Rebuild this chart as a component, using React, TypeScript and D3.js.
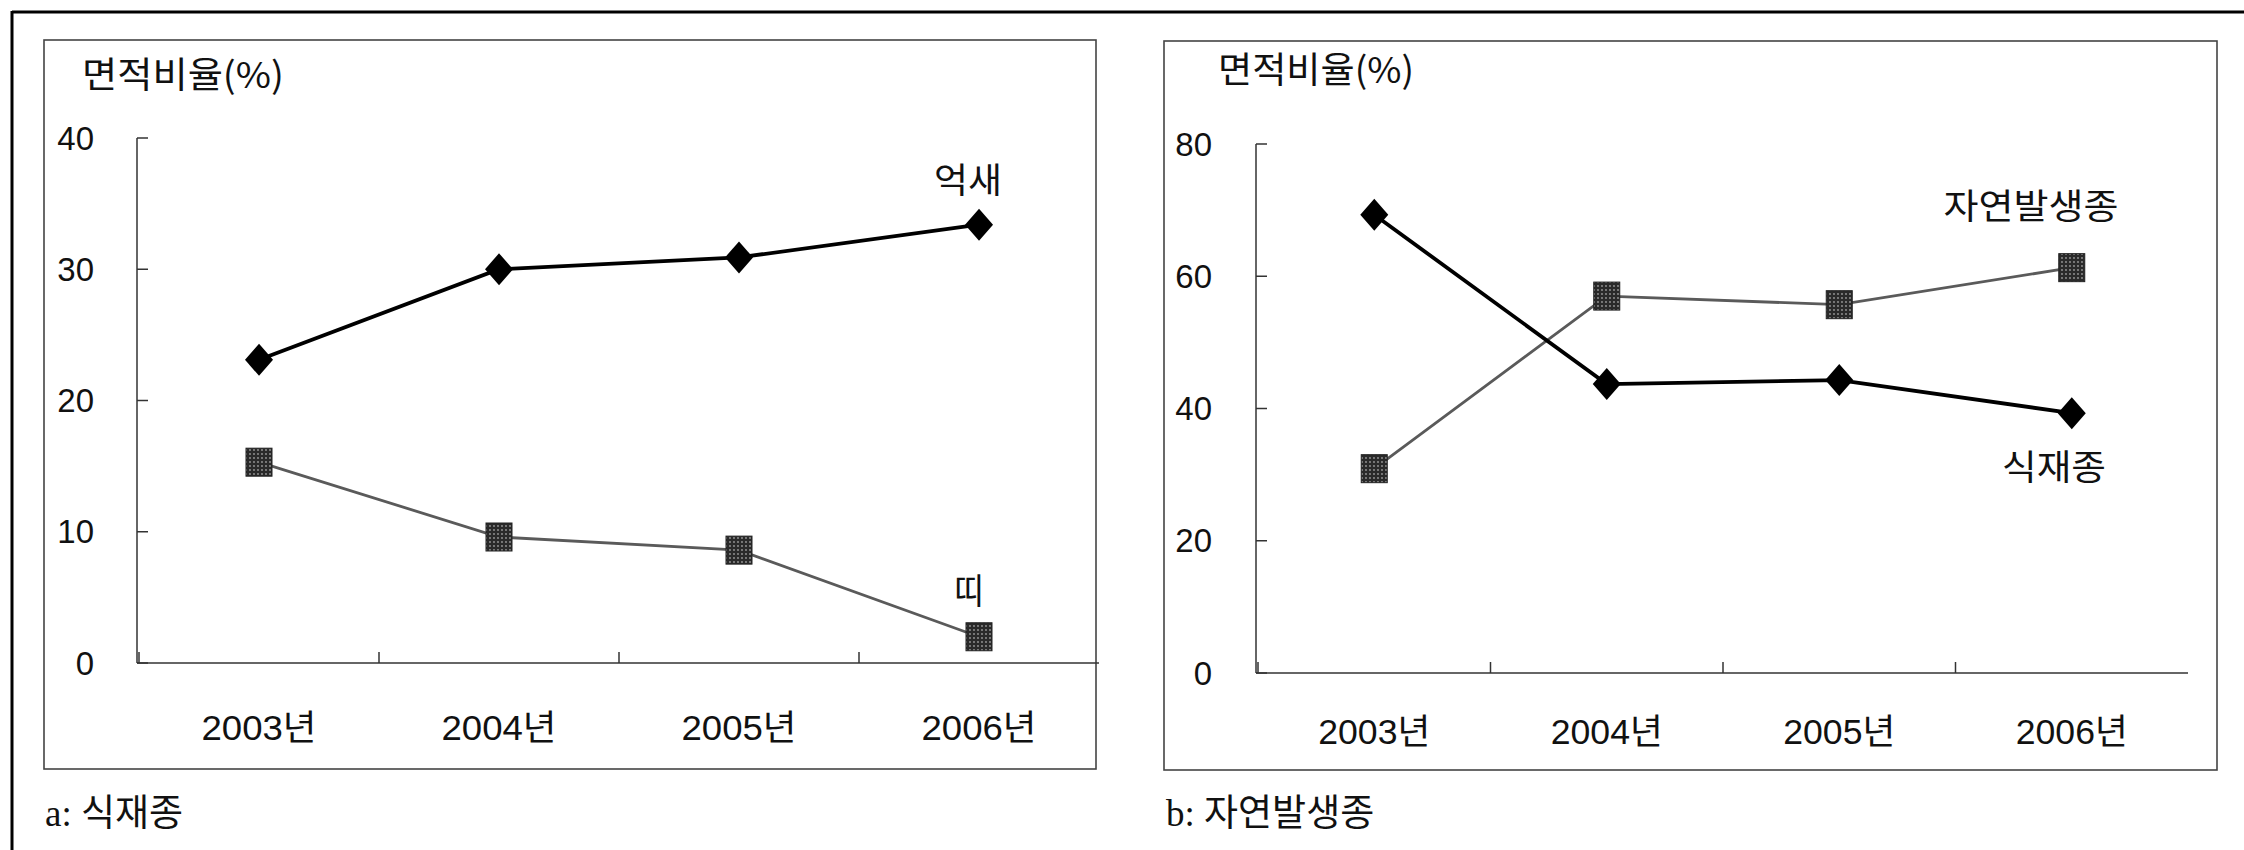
import React from "react";
import * as d3 from "d3";

const years = ["2003년", "2004년", "2005년", "2006년"];

// Panel a: 식재종
const aTicks = [0, 10, 20, 30, 40];
const aEoksae = [23.1, 30.0, 30.9, 33.4]; // 억새 (diamond)
const aTti = [15.3, 9.6, 8.6, 2.0]; // 띠 (square)

// Panel b: 자연발생종
const bTicks = [0, 20, 40, 60, 80];
const bPlanted = [69.3, 43.7, 44.3, 39.3]; // 식재종 (diamond)
const bNatural = [30.9, 57.0, 55.7, 61.3]; // 자연발생종 (square)

const NUM_FONT = "'Liberation Sans', Arial, 'Noto Sans CJK KR', sans-serif";
const KR_FONT = "'Noto Sans CJK KR', 'Liberation Sans', sans-serif";
const CAP_FONT = "'Liberation Serif', 'Noto Sans CJK KR', serif";

type PanelProps = {
  box: [number, number, number, number];
  xRange: [number, number];
  yRange: [number, number];
  yMax: number;
  ticks: number[];
  diamond: number[];
  square: number[];
  titleX: number;
  titleY: number;
  titleW: number;
  tickLabelX: number;
  xLabelY: number;
  xLabelW: number;
  caption: string;
  captionX: number;
  labels: { text: string; x: number; y: number; w: number }[];
};

function Panel(p: PanelProps) {
  const x = d3.scaleBand<string>().domain(years).range(p.xRange).padding(0);
  const y = d3.scaleLinear().domain([0, p.yMax]).range(p.yRange);
  const cx = (d: string) => (x(d) as number) + x.bandwidth() / 2;
  const line = d3
    .line<number>()
    .x((_, i) => cx(years[i]))
    .y((v) => y(v));
  const [bx, by, bx2, by2] = p.box;
  const axX = p.xRange[0] - 2;
  const diamondPath = (px: number, py: number) =>
    `M${px},${py - 16}L${px + 14},${py}L${px},${py + 16}L${px - 14},${py}Z`;
  return (
    <g>
      <rect x={bx} y={by} width={bx2 - bx} height={by2 - by} fill="none" stroke="#444" strokeWidth={1.6} />
      <text x={p.titleX} y={p.titleY} fontFamily={KR_FONT} fontSize={36} dominantBaseline="middle" fill="#111"
        textLength={p.titleW} lengthAdjust="spacingAndGlyphs">
        면적비율(%)
      </text>
      {/* y axis */}
      <line x1={axX} x2={axX} y1={y(p.yMax)} y2={y(0)} stroke="#333" strokeWidth={1.5} />
      {p.ticks.map((t) => (
        <g key={t}>
          <line x1={axX} x2={axX + 11} y1={y(t)} y2={y(t)} stroke="#333" strokeWidth={1.5} />
          <text x={p.tickLabelX} y={y(t) + 3} textAnchor="end" dominantBaseline="middle" fontFamily={NUM_FONT} fontSize={33} fill="#111">
            {t}
          </text>
        </g>
      ))}
      {/* x axis */}
      <line x1={axX} x2={p.xRange[1]} y1={y(0)} y2={y(0)} stroke="#333" strokeWidth={1.5} />
      {years.map((yr) => (
        <g key={yr}>
          <line x1={x(yr) as number} x2={x(yr) as number} y1={y(0)} y2={y(0) - 11} stroke="#333" strokeWidth={1.5} />
          <text x={cx(yr) - p.xLabelW / 2} y={p.xLabelY} dominantBaseline="middle" fontFamily={NUM_FONT} fontSize={35} fill="#111"
            textLength={p.xLabelW} lengthAdjust="spacingAndGlyphs">
            {yr}
          </text>
        </g>
      ))}
      {/* square series */}
      <path d={line(p.square) as string} fill="none" stroke="#5a5a5a" strokeWidth={2.8} />
      {p.square.map((v, i) => (
        <rect key={i} x={cx(years[i]) - 13} y={y(v) - 14} width={26} height={28} fill="url(#halftone)" stroke="#222" strokeWidth={1} />
      ))}
      {/* diamond series */}
      <path d={line(p.diamond) as string} fill="none" stroke="#000" strokeWidth={3.8} />
      {p.diamond.map((v, i) => (
        <path key={i} d={diamondPath(cx(years[i]), y(v))} fill="#000" />
      ))}
      {p.labels.map((l) => (
        <text key={l.text} x={l.x - l.w / 2} y={l.y} dominantBaseline="middle" fontFamily={KR_FONT} fontSize={35} fill="#111"
          textLength={l.w} lengthAdjust="spacingAndGlyphs">
          {l.text}
        </text>
      ))}
      <text x={p.captionX} y={818} dominantBaseline="middle" fontFamily={CAP_FONT} fontSize={37} fill="#111">
        {p.caption}
      </text>
    </g>
  );
}

export default function App() {
  return (
    <svg width={2244} height={850} style={{ display: "block", position: "absolute", left: 0, top: 0, background: "#fff" }}>
      <defs>
        <pattern id="halftone" width={4} height={4} patternUnits="userSpaceOnUse">
          <rect width={4} height={4} fill="#2a2a2a" />
          <circle cx={2} cy={2} r={0.9} fill="#9a9a9a" />
        </pattern>
      </defs>
      <rect width={2244} height={850} fill="#fff" />
      {/* outer frame (top & left) */}
      <line x1={12} x2={2244} y1={12} y2={12} stroke="#000" strokeWidth={3} />
      <line x1={12} x2={12} y1={11} y2={850} stroke="#000" strokeWidth={3} />
      <Panel
        box={[44, 40, 1096, 769]}
        xRange={[139, 1099]}
        yRange={[663, 138]}
        yMax={40}
        ticks={aTicks}
        diamond={aEoksae}
        square={aTti}
        titleX={82}
        titleY={78}
        titleW={202}
        tickLabelX={94}
        xLabelY={731}
        xLabelW={115}
        caption="a: 식재종"
        captionX={45}
        labels={[
          { text: "억새", x: 968, y: 183, w: 68 },
          { text: "띠", x: 969, y: 594, w: 30 },
        ]}
      />
      <Panel
        box={[1164, 41, 2217, 770]}
        xRange={[1258, 2188]}
        yRange={[673, 144]}
        yMax={80}
        ticks={bTicks}
        diamond={bPlanted}
        square={bNatural}
        titleX={1218}
        titleY={73}
        titleW={196}
        tickLabelX={1212}
        xLabelY={735}
        xLabelW={112}
        caption="b: 자연발생종"
        captionX={1166}
        labels={[
          { text: "자연발생종", x: 2031, y: 209, w: 175 },
          { text: "식재종", x: 2054, y: 470, w: 104 },
        ]}
      />
    </svg>
  );
}
